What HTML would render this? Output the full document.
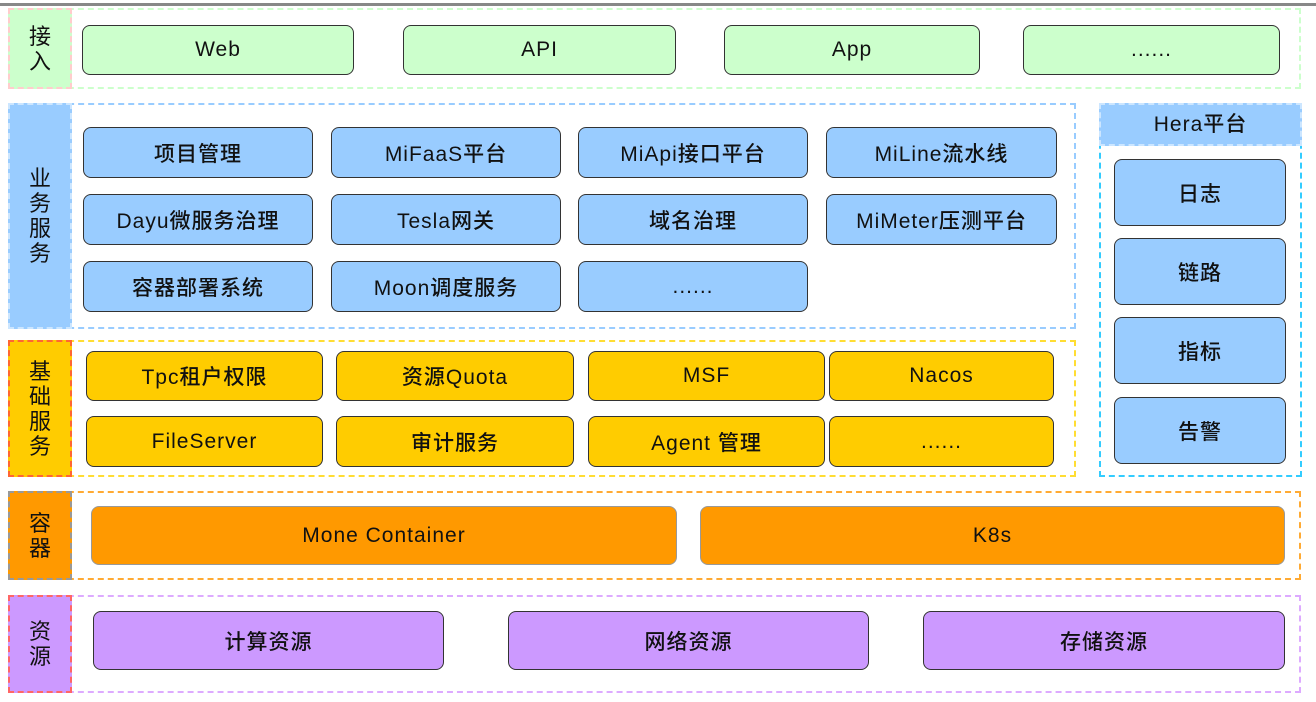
<!DOCTYPE html>
<html><head><meta charset="utf-8"><style>
body{margin:0;width:1316px;height:702px;background:#fff;position:relative;overflow:hidden;font-family:"Liberation Sans","Noto Sans CJK SC",sans-serif;}
div{position:absolute;box-sizing:border-box;}
.o{border:2px dashed;}
.l{display:flex;align-items:center;justify-content:center;text-align:center;font-size:22px;line-height:25px;color:#111;border:2px dashed;}
.b{border:1.5px solid #333;border-radius:8px;display:flex;align-items:center;justify-content:center;font-size:21px;color:#111;letter-spacing:1px;font-weight:500;}
.g{background:#ccffcc}.u{background:#99ccff}.y{background:#ffcc00}.r{background:#ff9900}.p{background:#cc99ff}
</style></head><body>
<div style="left:0;top:3px;width:1316px;height:3px;background:#888"></div>

<div class="o" style="left:8px;top:8px;width:1293px;height:81px;border-color:#ccffcc"></div>
<div class="l g" style="left:8px;top:8px;width:64px;height:81px;border-color:#ffcccc">接<br>入</div>
<div class="b g" style="left:82px;top:25px;width:272px;height:50px">Web</div>
<div class="b g" style="left:403px;top:25px;width:273px;height:50px">API</div>
<div class="b g" style="left:724px;top:25px;width:256px;height:50px">App</div>
<div class="b g" style="left:1023px;top:25px;width:257px;height:50px">......</div>

<div class="o" style="left:8px;top:103px;width:1068px;height:226px;border-color:#99ccff"></div>
<div class="l u" style="left:8px;top:103px;width:64px;height:226px;border-color:#cce6ff">业<br>务<br>服<br>务</div>
<div class="b u" style="left:83px;top:127px;width:230px;height:51px">项目管理</div>
<div class="b u" style="left:331px;top:127px;width:230px;height:51px">MiFaaS平台</div>
<div class="b u" style="left:578px;top:127px;width:230px;height:51px">MiApi接口平台</div>
<div class="b u" style="left:826px;top:127px;width:231px;height:51px">MiLine流水线</div>
<div class="b u" style="left:83px;top:194px;width:230px;height:51px">Dayu微服务治理</div>
<div class="b u" style="left:331px;top:194px;width:230px;height:51px">Tesla网关</div>
<div class="b u" style="left:578px;top:194px;width:230px;height:51px">域名治理</div>
<div class="b u" style="left:826px;top:194px;width:231px;height:51px">MiMeter压测平台</div>
<div class="b u" style="left:83px;top:261px;width:230px;height:51px">容器部署系统</div>
<div class="b u" style="left:331px;top:261px;width:230px;height:51px">Moon调度服务</div>
<div class="b u" style="left:578px;top:261px;width:230px;height:51px">......</div>

<div class="o" style="left:1099px;top:103px;width:203px;height:374px;border-color:#33ccff"></div>
<div class="l u" style="left:1099px;top:103px;width:203px;height:43px;border-color:#cce6ff;font-size:21px;font-weight:500;letter-spacing:1px">Hera平台</div>
<div class="b u" style="left:1114px;top:159px;width:172px;height:67px">日志</div>
<div class="b u" style="left:1114px;top:238px;width:172px;height:67px">链路</div>
<div class="b u" style="left:1114px;top:317px;width:172px;height:67px">指标</div>
<div class="b u" style="left:1114px;top:397px;width:172px;height:67px">告警</div>

<div class="o" style="left:8px;top:340px;width:1068px;height:137px;border-color:#ffdd33"></div>
<div class="l y" style="left:8px;top:340px;width:64px;height:137px;border-color:#ff6633">基<br>础<br>服<br>务</div>
<div class="b y" style="left:86px;top:351px;width:237px;height:50px">Tpc租户权限</div>
<div class="b y" style="left:336px;top:351px;width:238px;height:50px">资源Quota</div>
<div class="b y" style="left:588px;top:351px;width:237px;height:50px">MSF</div>
<div class="b y" style="left:829px;top:351px;width:225px;height:50px">Nacos</div>
<div class="b y" style="left:86px;top:416px;width:237px;height:51px">FileServer</div>
<div class="b y" style="left:336px;top:416px;width:238px;height:51px">审计服务</div>
<div class="b y" style="left:588px;top:416px;width:237px;height:51px">Agent 管理</div>
<div class="b y" style="left:829px;top:416px;width:225px;height:51px">......</div>

<div class="o" style="left:8px;top:491px;width:1293px;height:89px;border-color:#ffaa33"></div>
<div class="l r" style="left:8px;top:491px;width:64px;height:89px;border-color:#999">容<br>器</div>
<div class="b r" style="left:91px;top:506px;width:586px;height:59px;border-color:#999">Mone Container</div>
<div class="b r" style="left:700px;top:506px;width:585px;height:59px;border-color:#999">K8s</div>

<div class="o" style="left:8px;top:595px;width:1293px;height:98px;border-color:#ddaaff"></div>
<div class="l p" style="left:8px;top:595px;width:64px;height:98px;border-color:#ff6666">资<br>源</div>
<div class="b p" style="left:93px;top:611px;width:351px;height:59px">计算资源</div>
<div class="b p" style="left:508px;top:611px;width:361px;height:59px">网络资源</div>
<div class="b p" style="left:923px;top:611px;width:362px;height:59px">存储资源</div>
</body></html>
